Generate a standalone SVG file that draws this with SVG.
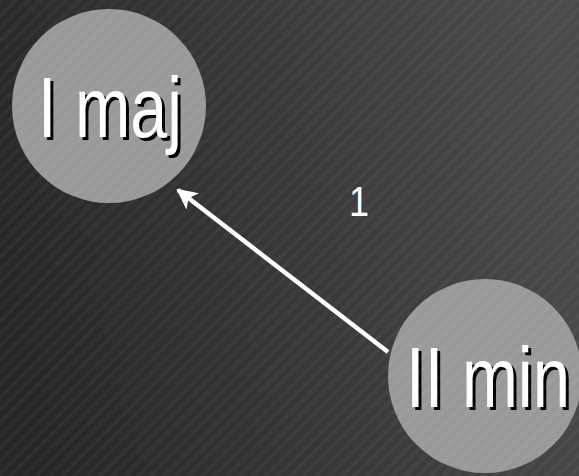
<svg xmlns="http://www.w3.org/2000/svg" width="579" height="476" viewBox="0 0 579 476">
<defs>
<linearGradient id="bg" x1="0" y1="0.6" x2="1" y2="0.4">
<stop offset="0" stop-color="#262626"/>
<stop offset="1" stop-color="#4a4a4a"/>
</linearGradient>
<pattern id="stripes" width="9" height="9" patternUnits="userSpaceOnUse" patternTransform="rotate(45)">
<rect x="0" y="0" width="4" height="9" fill="#ffffff" fill-opacity="0.035"/>
</pattern>
<marker id="ah" viewBox="0 0 10 10" refX="9" refY="5" markerWidth="4.6" markerHeight="4.6" orient="auto" markerUnits="strokeWidth">
<path d="M0,0 L10,5 L0,10 L2.5,5 Z" fill="#ffffff"/>
</marker>
<style>
.node{fill:#999999;}
.lbl{font-family:"Liberation Sans",Arial,sans-serif;font-size:86px;text-anchor:middle;}
.fg{fill:#ffffff;}
.sh{fill:#000000;}
.edge{stroke:#ffffff;stroke-width:4.5;fill:none;}
.elbl{font-family:"Liberation Sans",Arial,sans-serif;font-size:42px;fill:#ffffff;text-anchor:middle;}
</style>
</defs>
<rect width="579" height="476" fill="url(#bg)"/>
<g id="connectors">
<line class="edge" x1="388" y1="352" x2="178" y2="190" marker-end="url(#ah)"/>
<text class="elbl" x="359" y="216" textLength="20" lengthAdjust="spacingAndGlyphs">1</text>
</g>
<g id="node-imaj">
<circle class="node" cx="109" cy="106" r="97"/>
<text class="lbl sh" x="113" y="140" textLength="144" lengthAdjust="spacingAndGlyphs">I maj</text>
<text class="lbl fg" x="110" y="137" textLength="144" lengthAdjust="spacingAndGlyphs">I maj</text>
</g>
<g id="node-iimin">
<circle class="node" cx="485" cy="376" r="97"/>
<text class="lbl sh" x="491" y="410" textLength="164" lengthAdjust="spacingAndGlyphs">II min</text>
<text class="lbl fg" x="488" y="407" textLength="164" lengthAdjust="spacingAndGlyphs">II min</text>
</g>
<rect width="579" height="476" fill="url(#stripes)" pointer-events="none"/>
</svg>
